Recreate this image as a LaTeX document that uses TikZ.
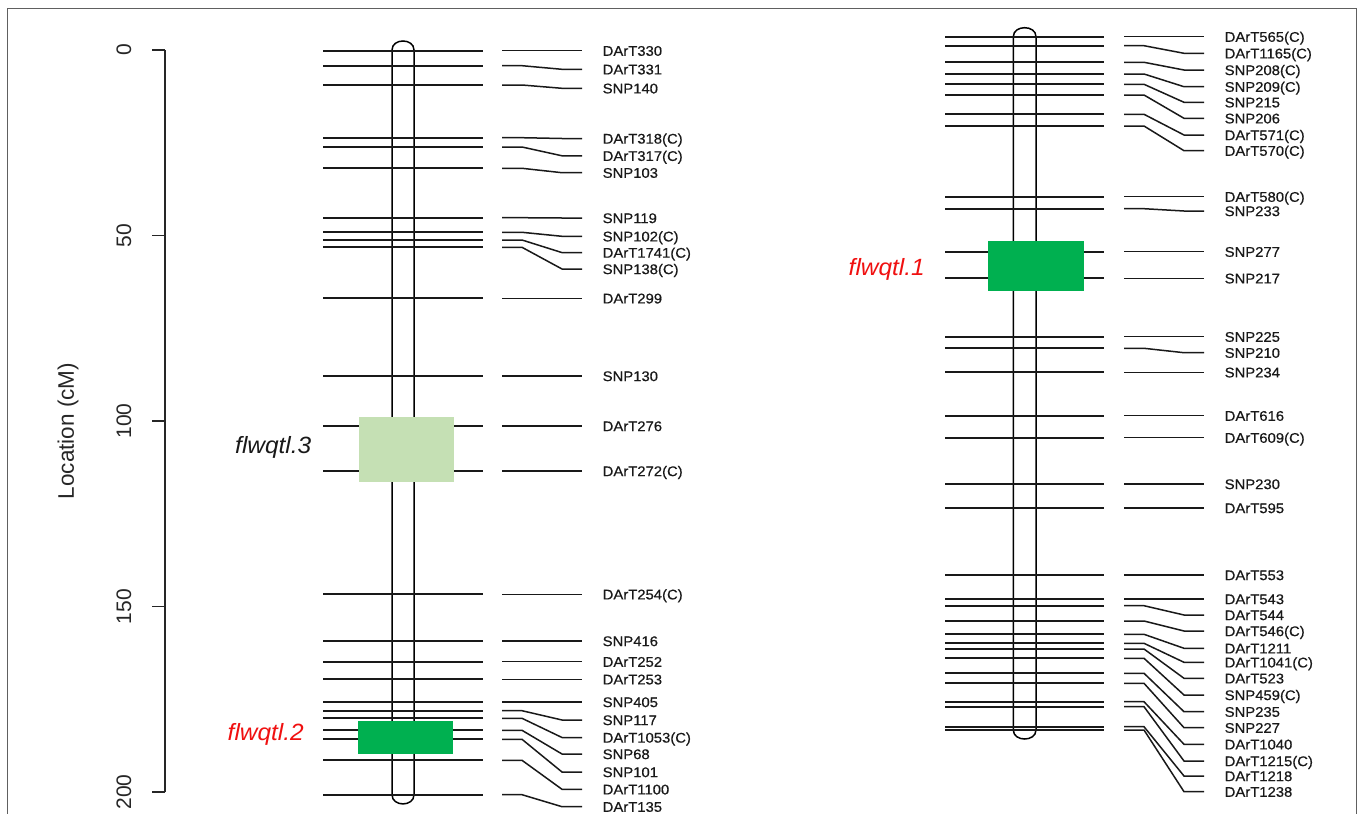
\documentclass[tikz,border=0pt]{standalone}
\usepackage{fontspec}
\setmainfont{Liberation Sans}
\newfontfamily\labfont[FakeStretch=1.06,FakeBold=0.5]{Liberation Sans}
\newfontfamily\qtlfont[FakeStretch=1.04]{Liberation Sans Italic}
\usetikzlibrary{calc}
\definecolor{qtldark}{HTML}{00B050}
\definecolor{qtllight}{HTML}{C5E0B4}
\definecolor{qtlred}{HTML}{F01010}
\definecolor{framegray}{HTML}{606060}
\begin{document}
\begin{tikzpicture}[x=1pt,y=-1pt,
  chr/.style={line width=1.5pt,black},
  mk/.style={line width=1.8pt,black!90},
  conn/.style={line width=1.5pt,black!90},
  lab/.style={anchor=base west,inner sep=0pt,text=black!90,font=\labfont\fontsize{14}{14}\selectfont},
  qtllab/.style={anchor=base east,inner sep=0pt,font=\qtlfont\fontsize{23.5}{23.5}\selectfont},
  axisline/.style={line width=1.5pt,black!85},
  axislab/.style={rotate=90,inner sep=0pt,text=black!85,font=\fontsize{21}{21}\selectfont}]
\useasboundingbox (0,0) rectangle (1358,814);
\clip (0,0) rectangle (1358,814);
\fill[white] (0,0) rectangle (1358,814);
% frame
\draw[framegray,line width=1.3pt] (7.3,8.3) rectangle (1356.5,840);
% axis
\coordinate (ax0) at (165,50);
\coordinate (ax1) at (165,792);
\draw[axisline] (ax0) -- (ax1);
\foreach \v/\yy in {0/50,50/235.5,100/421,150/606.5,200/792}{
  \coordinate (tk\v) at (165,\yy);
  \draw[axisline] (tk\v) -- ++(-13,0);
  \node[axislab] (tl\v) at (124,\yy) {\v};
}
\node[axislab,font=\fontsize{22.5}{22.5}\selectfont] (ylab) at (68,431) {Location (cM)};
% left chromosome
\draw[chr] (392,50) -- (392,794.7) .. controls (392,807) and (414,807) .. (414,794.7)
  -- (414,50) .. controls (414,38) and (392,38) .. cycle;
% right chromosome
\draw[chr] (1013.3,36.7) -- (1013.3,730) .. controls (1013.3,742) and (1036,742) .. (1036,730)
  -- (1036,36.7) .. controls (1036,24.7) and (1013.3,24.7) .. cycle;
% left markers
\foreach \y/\e/\t [count=\i] in {
  50.7/50.7/DArT330, 65.7/69.3/DArT331, 85/88.3/SNP140,
  137.7/138.5/DArT318(C), 147/155.8/DArT317(C), 168.3/172.7/SNP103,
  217.7/218/SNP119, 232.3/236.3/SNP102(C), 240/252.6/DArT1741(C), 247.3/269/SNP138(C),
  298.3/298.3/DArT299, 376/376/SNP130, 426/426/DArT276, 471/471/DArT272(C),
  594.3/594.3/DArT254(C), 641/641/SNP416, 661.7/661.7/DArT252, 679.3/679.3/DArT253,
  702/702/SNP405, 710.7/720/SNP117, 718.3/737.5/DArT1053(C), 730.3/754/SNP68,
  739.3/772/SNP101, 760.3/789.3/DArT1100, 794.7/806.7/DArT135}{
  \coordinate (LL\i) at (323,\y);
  \coordinate (LA\i) at (502,\y);
  \coordinate (LE\i) at (582,\e);
  \draw[mk] (LL\i) -- ++(160,0);
  \draw[conn] (LA\i) -- ++(20,0) -- ($(LE\i)+(-20,0)$) -- (LE\i);
  \node[lab] (LT\i) at ($(LE\i)+(20.5,5.1)$) {\t};
}
% right markers
\foreach \y/\e/\t [count=\i] in {
  36.7/36.7/DArT565(C), 45.7/53.3/DArT1165(C), 62.3/70/SNP208(C), 74/86.7/SNP209(C),
  84.3/102.3/SNP215, 95/118.3/SNP206, 114.3/135/DArT571(C), 126/150.7/DArT570(C),
  196.7/196.7/DArT580(C), 208.7/211/SNP233, 251.7/251.7/SNP277, 278.3/278.3/SNP217,
  336.7/336.7/SNP225, 348.3/352.7/SNP210, 372.3/372.3/SNP234, 415.7/415.7/DArT616,
  437.7/437.7/DArT609(C), 484/484/SNP230, 508/508/DArT595, 575/575/DArT553,
  599/599/DArT543, 605.7/615/DArT544, 621/631/DArT546(C), 634.3/648.3/DArT1211,
  643.3/662.3/DArT1041(C), 649/678.3/DArT523, 658.3/695/SNP459(C), 673.3/711.7/SNP235,
  683.3/727.7/SNP227, 701.7/744.3/DArT1040, 706.7/761/DArT1215(C), 726.7/776/DArT1218,
  730/791.7/DArT1238}{
  \coordinate (RL\i) at (945,\y);
  \coordinate (RA\i) at (1124,\y);
  \coordinate (RE\i) at (1204,\e);
  \draw[mk] (RL\i) -- ++(159,0);
  \draw[conn] (RA\i) -- ++(20,0) -- ($(RE\i)+(-20,0)$) -- (RE\i);
  \node[lab] (RT\i) at ($(RE\i)+(20.5,5.1)$) {\t};
}
% QTL boxes
\fill[qtllight] (359.3,416.7) rectangle (454.3,481.7);
\fill[qtldark] (357.5,720.7) rectangle (453.4,754.3);
\fill[qtldark] (988.3,240.5) rectangle (1084.3,290.8);
% QTL labels
\node[qtllab,text=black!90] (q3) at (311.5,453) {flwqtl.3};
\node[qtllab,text=qtlred] (q2) at (304,740) {flwqtl.2};
\node[qtllab,text=qtlred] (q1) at (925,275) {flwqtl.1};
\end{tikzpicture}
\end{document}
